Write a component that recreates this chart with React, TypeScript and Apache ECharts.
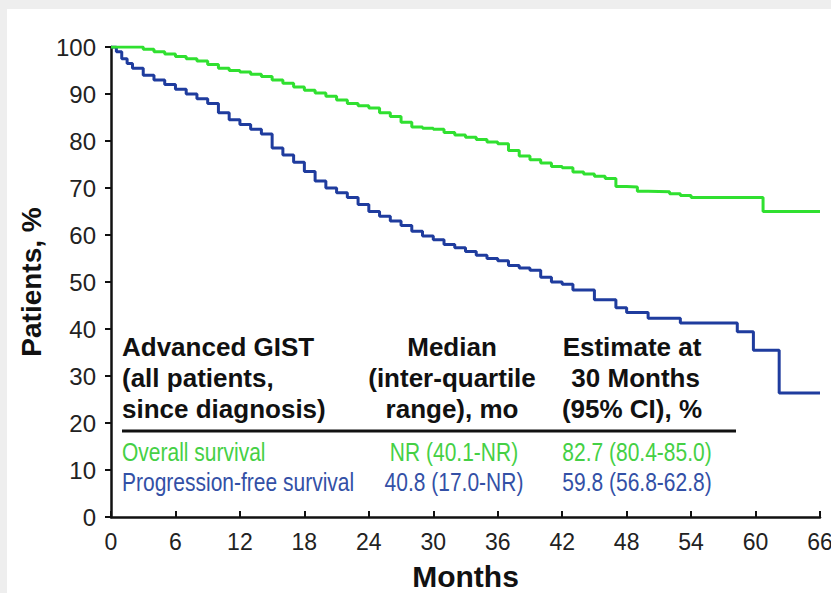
import React, { useEffect, useRef } from "react";
import * as echarts from "echarts";

// Overall survival (Kaplan-Meier)
const osMonths = [0, 2, 3, 4, 5, 6, 7, 8, 9, 10, 11, 12, 13, 14, 15, 16, 17, 18, 19, 20, 21, 22, 23, 24, 25, 26, 27, 28, 29, 30, 31, 32, 33, 34, 35, 36, 37, 38, 39, 40, 41, 42, 43, 44, 45, 46, 47, 48, 49, 50, 52, 53, 54, 60.7, 66];
const osValues = [100, 100, 99.5, 99, 98.5, 98, 97.5, 97, 96.3, 95.5, 95, 94.7, 94.2, 93.7, 93, 92.3, 91.5, 90.8, 90.2, 89.5, 88.7, 88, 87.5, 87, 86, 85.2, 84, 83, 82.7, 82.5, 81.8, 81.3, 80.8, 80.3, 79.8, 79.4, 78, 76.8, 76, 75.3, 74.6, 74.3, 73.4, 73, 72.5, 72, 70.3, 70.2, 69.3, 69.2, 68.8, 68.4, 68, 65, 65];

// Progression-free survival
const pfsMonths = [0, 0.5, 1, 1.5, 2, 3, 4, 5, 6, 7, 8, 9, 10, 11, 12, 13, 14, 15, 16, 17, 18, 19, 20, 21, 22, 23, 24, 25, 26, 27, 28, 29, 30, 31, 32, 33, 34, 35, 36, 37, 38, 39, 40, 41, 42, 43, 45, 47, 48, 50, 53, 58.3, 59.8, 62.2, 66];
const pfsValues = [100, 99, 97.5, 96.5, 95.5, 94, 93, 92, 91, 90, 89, 88, 86, 84.5, 83.5, 82.5, 81.5, 78.5, 77, 75.5, 73.5, 71.5, 70, 69, 68, 66.5, 65, 64, 63, 62, 60.8, 59.8, 59, 58, 57.3, 56.5, 55.7, 55, 54.5, 53.5, 53, 52.5, 51, 50, 49.5, 48.3, 46.2, 44.5, 43.5, 42.3, 41.3, 39.4, 35.5, 26.4, 26.4];

const tableHeaderCol1 = ["Advanced GIST", "(all patients,", "since diagnosis)"];
const tableHeaderCol2 = ["Median", "(inter-quartile", "range), mo"];
const tableHeaderCol3 = ["Estimate at", " 30 Months", "(95% CI), %"];
const rowLabels = ["Overall survival", "Progression-free survival"];
const rowMedians = ["NR (40.1-NR)", "40.8 (17.0-NR)"];
const rowEstimates = ["82.7 (80.4-85.0)", "59.8 (56.8-62.8)"];

const GREEN = "#30e030";
const BLUE = "#1f3c9e";
const GREEN_TXT = "#45d045";
const BLUE_TXT = "#3350a6";
const SANS = "'Liberation Sans', Arial, sans-serif";

const zip = (xs: number[], ys: number[]) => xs.map((x, i) => [x, ys[i]]);

export default function App() {
  const ref = useRef<HTMLDivElement>(null);
  useEffect(() => {
    if (!ref.current) return;
    const chart = echarts.init(ref.current, null, { renderer: "svg" });
    const hdrStyle = { font: `bold 26px ${SANS}`, fill: "#111" };
    const graphics: any[] = [
      { type: "rect", z: -10, shape: { x: 7, y: 9, width: 824, height: 584 }, style: { fill: "#ffffff" } },
    ];
    const lineY = [347, 378, 409];
    tableHeaderCol1.forEach((t, i) =>
      graphics.push({ type: "text", x: 122, y: lineY[i], style: { ...hdrStyle, text: t, textAlign: "left", textVerticalAlign: "middle" } })
    );
    tableHeaderCol2.forEach((t, i) =>
      graphics.push({ type: "text", x: 452, y: lineY[i], style: { ...hdrStyle, text: t, textAlign: "center", textVerticalAlign: "middle" } })
    );
    tableHeaderCol3.forEach((t, i) =>
      graphics.push({ type: "text", x: 632, y: lineY[i], style: { ...hdrStyle, text: t, textAlign: "center", textVerticalAlign: "middle" } })
    );
    graphics.push({ type: "line", shape: { x1: 122, y1: 431, x2: 736, y2: 431 }, style: { stroke: "#111", lineWidth: 3 } });
    const rowY = [452, 482];
    const rowColors = [GREEN_TXT, BLUE_TXT];
    rowLabels.forEach((t, i) => {
      const st = { font: `25px ${SANS}`, fill: rowColors[i], textVerticalAlign: "middle" };
      graphics.push({ type: "text", x: 122, y: rowY[i], scaleX: 0.84, style: { ...st, text: t, textAlign: "left" } });
      graphics.push({ type: "text", x: 454, y: rowY[i], scaleX: 0.84, style: { ...st, text: rowMedians[i], textAlign: "center" } });
      graphics.push({ type: "text", x: 637, y: rowY[i], scaleX: 0.84, style: { ...st, text: rowEstimates[i], textAlign: "center" } });
    });

    chart.setOption({
      animation: false,
      backgroundColor: "#eeeeee",
      grid: { left: 111, right: 11, top: 47, bottom: 76, containLabel: false, outerBoundsMode: "none" },
      xAxis: {
        type: "value",
        min: 0,
        max: 66,
        interval: 6,
        name: "Months",
        nameLocation: "middle",
        nameGap: 44,
        nameTextStyle: { fontFamily: SANS, fontWeight: "bold", fontSize: 30, color: "#111" },
        axisLine: { show: true, lineStyle: { color: "#111", width: 2.5 } },
        axisTick: { show: true, inside: true, length: 6, lineStyle: { color: "#111", width: 2 } },
        axisLabel: { fontFamily: SANS, fontSize: 23, color: "#222", margin: 13, showMaxLabel: true },
        splitLine: { show: false },
      },
      yAxis: {
        type: "value",
        min: 0,
        max: 100,
        interval: 10,
        name: "Patients, %",
        nameLocation: "middle",
        nameGap: 50,
        nameRotate: 90,
        nameTextStyle: { fontFamily: SANS, fontWeight: "bold", fontSize: 28, color: "#111" },
        axisLine: { show: true, lineStyle: { color: "#111", width: 2.5 } },
        axisTick: { show: true, length: 6, lineStyle: { color: "#111", width: 2 } },
        axisLabel: { fontFamily: SANS, fontSize: 24, color: "#222", margin: 15 },
        splitLine: { show: false },
      },
      series: [
        {
          name: "Overall survival",
          type: "line",
          step: "end",
          showSymbol: false,
          data: zip(osMonths, osValues),
          lineStyle: { color: GREEN, width: 3 },
          itemStyle: { color: GREEN },
          z: 3,
        },
        {
          name: "Progression-free survival",
          type: "line",
          step: "end",
          showSymbol: false,
          data: zip(pfsMonths, pfsValues),
          lineStyle: { color: BLUE, width: 3 },
          itemStyle: { color: BLUE },
          z: 2,
        },
      ],
      graphic: graphics,
    });
    return () => chart.dispose();
  }, []);
  return <div ref={ref} style={{ position: "fixed", left: 0, top: 0, width: 831, height: 593 }} />;
}
